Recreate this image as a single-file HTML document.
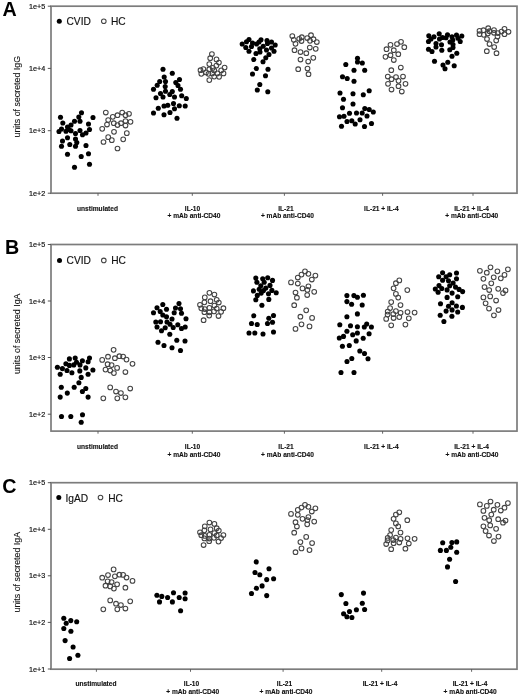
<!DOCTYPE html>
<html><head><meta charset="utf-8"><title>Figure</title>
<style>
html,body{margin:0;padding:0;background:#fff;}
body{width:520px;height:698px;overflow:hidden;}
svg{display:block;}
#w{width:520px;height:698px;will-change:transform;}
text{font-family:"Liberation Sans",sans-serif;fill:#111;}
.tk{font-size:7.2px;stroke:#111;stroke-width:0.18px;}
.xl{font-size:6.6px;font-weight:bold;stroke:#111;stroke-width:0.12px;}
.yl{font-size:8.85px;stroke:#111;stroke-width:0.1px;}
.let{font-size:19.7px;font-weight:bold;fill:#000;}
.lg{font-size:10.2px;stroke:#111;stroke-width:0.15px;}
circle{fill:#000;}
circle.o{fill:none;stroke:#444;stroke-width:1.05;}
</style></head>
<body>
<div id="w"><svg width="520" height="698" viewBox="0 0 520 698">
<rect x="51.0" y="6.2" width="466.0" height="187.0" fill="none" stroke="#7c7c7c" stroke-width="1.7"/>
<line x1="47.8" y1="6.2" x2="51.0" y2="6.2" stroke="#555" stroke-width="1"/>
<text x="45.2" y="8.80" text-anchor="end" class="tk">1e+5</text>
<line x1="47.8" y1="68.4" x2="51.0" y2="68.4" stroke="#555" stroke-width="1"/>
<text x="45.2" y="71.00" text-anchor="end" class="tk">1e+4</text>
<line x1="47.8" y1="130.7" x2="51.0" y2="130.7" stroke="#555" stroke-width="1"/>
<text x="45.2" y="133.30" text-anchor="end" class="tk">1e+3</text>
<line x1="47.8" y1="193.2" x2="51.0" y2="193.2" stroke="#555" stroke-width="1"/>
<text x="45.2" y="195.80" text-anchor="end" class="tk">1e+2</text>
<line x1="98" y1="193.2" x2="98" y2="195.79999999999998" stroke="#555" stroke-width="0.9"/>
<text x="97.5" y="210.5" text-anchor="middle" class="xl">unstimulated</text>
<line x1="192.3" y1="193.2" x2="192.3" y2="195.79999999999998" stroke="#555" stroke-width="0.9"/>
<text x="192.5" y="210.5" text-anchor="middle" class="xl">IL-10</text>
<text x="194.0" y="217.6" text-anchor="middle" class="xl">+ mAb anti-CD40</text>
<line x1="284.4" y1="193.2" x2="284.4" y2="195.79999999999998" stroke="#555" stroke-width="0.9"/>
<text x="285.9" y="210.5" text-anchor="middle" class="xl">IL-21</text>
<text x="287.4" y="217.6" text-anchor="middle" class="xl">+ mAb anti-CD40</text>
<line x1="382.6" y1="193.2" x2="382.6" y2="195.79999999999998" stroke="#555" stroke-width="0.9"/>
<text x="381.4" y="210.5" text-anchor="middle" class="xl">IL-21 + IL-4</text>
<line x1="473" y1="193.2" x2="473" y2="195.79999999999998" stroke="#555" stroke-width="0.9"/>
<text x="471.5" y="210.5" text-anchor="middle" class="xl">IL-21 + IL-4</text>
<text x="471.8" y="217.6" text-anchor="middle" class="xl">+ mAb anti-CD40</text>
<text transform="translate(20.1,96.7) rotate(-90)" text-anchor="middle" class="yl">units of secreted IgG</text>
<text x="2.5" y="15.7" class="let">A</text>
<circle cx="59.3" cy="21.2" r="2.5" fill="#000"/>
<text x="66.5" y="25.20" class="lg">CVID</text>
<circle cx="103.8" cy="21.2" r="2.3" class="o"/>
<text x="110.9" y="25.20" class="lg">HC</text>
<circle cx="81.5" cy="112.8" r="2.55"/>
<circle cx="60.5" cy="117.2" r="2.55"/>
<circle cx="93" cy="117.5" r="2.55"/>
<circle cx="78.8" cy="117.0" r="2.55"/>
<circle cx="80" cy="121.2" r="2.55"/>
<circle cx="74.5" cy="121.2" r="2.55"/>
<circle cx="62.8" cy="123.0" r="2.55"/>
<circle cx="88.5" cy="124.0" r="2.55"/>
<circle cx="71" cy="125.0" r="2.55"/>
<circle cx="67.5" cy="127.0" r="2.55"/>
<circle cx="61.5" cy="129.0" r="2.55"/>
<circle cx="59" cy="131.5" r="2.55"/>
<circle cx="66" cy="131.2" r="2.55"/>
<circle cx="69" cy="129.5" r="2.55"/>
<circle cx="71" cy="130.8" r="2.55"/>
<circle cx="80" cy="130.5" r="2.55"/>
<circle cx="89.5" cy="129.5" r="2.55"/>
<circle cx="75.5" cy="133.5" r="2.55"/>
<circle cx="82.5" cy="134.8" r="2.55"/>
<circle cx="86" cy="133.0" r="2.55"/>
<circle cx="67.5" cy="137.8" r="2.55"/>
<circle cx="75.5" cy="139.0" r="2.55"/>
<circle cx="62.5" cy="141.0" r="2.55"/>
<circle cx="76.8" cy="142.5" r="2.55"/>
<circle cx="69.8" cy="144.5" r="2.55"/>
<circle cx="61.5" cy="146.3" r="2.55"/>
<circle cx="75.5" cy="146.3" r="2.55"/>
<circle cx="86" cy="145.5" r="2.55"/>
<circle cx="67.5" cy="154.3" r="2.55"/>
<circle cx="88.5" cy="153.7" r="2.55"/>
<circle cx="81.2" cy="156.5" r="2.55"/>
<circle cx="89.5" cy="164.2" r="2.55"/>
<circle cx="74.5" cy="167.2" r="2.55"/>
<circle cx="163" cy="69.2" r="2.55"/>
<circle cx="172.3" cy="73.3" r="2.55"/>
<circle cx="164.2" cy="77.0" r="2.55"/>
<circle cx="179.5" cy="79.5" r="2.55"/>
<circle cx="159.7" cy="81.5" r="2.55"/>
<circle cx="165.5" cy="81.5" r="2.55"/>
<circle cx="175.8" cy="82.5" r="2.55"/>
<circle cx="157.2" cy="85.2" r="2.55"/>
<circle cx="178" cy="85.5" r="2.55"/>
<circle cx="165.2" cy="86.5" r="2.55"/>
<circle cx="153.5" cy="89.2" r="2.55"/>
<circle cx="180.5" cy="89.2" r="2.55"/>
<circle cx="165.5" cy="91.2" r="2.55"/>
<circle cx="172.3" cy="91.5" r="2.55"/>
<circle cx="160.5" cy="93.5" r="2.55"/>
<circle cx="169.8" cy="94.5" r="2.55"/>
<circle cx="163" cy="97.0" r="2.55"/>
<circle cx="174.5" cy="97.0" r="2.55"/>
<circle cx="156" cy="97.8" r="2.55"/>
<circle cx="181.7" cy="95.8" r="2.55"/>
<circle cx="186.3" cy="98.5" r="2.55"/>
<circle cx="173.5" cy="103.5" r="2.55"/>
<circle cx="164" cy="106.0" r="2.55"/>
<circle cx="167.8" cy="105.2" r="2.55"/>
<circle cx="179.3" cy="105.8" r="2.55"/>
<circle cx="185.2" cy="106.0" r="2.55"/>
<circle cx="158.3" cy="108.2" r="2.55"/>
<circle cx="174.5" cy="108.8" r="2.55"/>
<circle cx="153.5" cy="113.0" r="2.55"/>
<circle cx="170" cy="112.5" r="2.55"/>
<circle cx="164" cy="114.8" r="2.55"/>
<circle cx="177" cy="118.2" r="2.55"/>
<circle cx="249" cy="39.5" r="2.55"/>
<circle cx="246.5" cy="41.8" r="2.55"/>
<circle cx="242.2" cy="44.0" r="2.55"/>
<circle cx="252.5" cy="43.0" r="2.55"/>
<circle cx="261" cy="39.8" r="2.55"/>
<circle cx="259" cy="42.0" r="2.55"/>
<circle cx="256.5" cy="44.0" r="2.55"/>
<circle cx="267" cy="40.5" r="2.55"/>
<circle cx="271.5" cy="42.0" r="2.55"/>
<circle cx="267.5" cy="43.5" r="2.55"/>
<circle cx="275.2" cy="45.0" r="2.55"/>
<circle cx="251.5" cy="46.5" r="2.55"/>
<circle cx="245.8" cy="47.5" r="2.55"/>
<circle cx="263.2" cy="46.3" r="2.55"/>
<circle cx="271.5" cy="48.0" r="2.55"/>
<circle cx="259.8" cy="48.8" r="2.55"/>
<circle cx="266.5" cy="50.0" r="2.55"/>
<circle cx="274" cy="51.2" r="2.55"/>
<circle cx="249" cy="51.3" r="2.55"/>
<circle cx="260" cy="52.0" r="2.55"/>
<circle cx="256" cy="53.5" r="2.55"/>
<circle cx="269" cy="54.5" r="2.55"/>
<circle cx="265.8" cy="57.8" r="2.55"/>
<circle cx="253.8" cy="59.5" r="2.55"/>
<circle cx="263" cy="61.8" r="2.55"/>
<circle cx="256.3" cy="68.5" r="2.55"/>
<circle cx="268" cy="69.2" r="2.55"/>
<circle cx="252.5" cy="74.0" r="2.55"/>
<circle cx="265.5" cy="75.8" r="2.55"/>
<circle cx="259.8" cy="84.5" r="2.55"/>
<circle cx="257.3" cy="90.0" r="2.55"/>
<circle cx="267.8" cy="91.8" r="2.55"/>
<circle cx="357.5" cy="58.2" r="2.55"/>
<circle cx="357.5" cy="62.0" r="2.55"/>
<circle cx="362.3" cy="63.0" r="2.55"/>
<circle cx="345.8" cy="64.5" r="2.55"/>
<circle cx="354" cy="70.2" r="2.55"/>
<circle cx="364.7" cy="70.2" r="2.55"/>
<circle cx="342.5" cy="76.8" r="2.55"/>
<circle cx="347.2" cy="78.5" r="2.55"/>
<circle cx="354" cy="81.2" r="2.55"/>
<circle cx="369.2" cy="90.8" r="2.55"/>
<circle cx="340" cy="93.0" r="2.55"/>
<circle cx="353" cy="93.8" r="2.55"/>
<circle cx="363.3" cy="94.8" r="2.55"/>
<circle cx="343.5" cy="99.2" r="2.55"/>
<circle cx="353" cy="104.0" r="2.55"/>
<circle cx="342.5" cy="107.8" r="2.55"/>
<circle cx="364.8" cy="108.5" r="2.55"/>
<circle cx="369.2" cy="109.5" r="2.55"/>
<circle cx="373.3" cy="112.0" r="2.55"/>
<circle cx="349.5" cy="113.2" r="2.55"/>
<circle cx="356.5" cy="113.0" r="2.55"/>
<circle cx="362.2" cy="113.0" r="2.55"/>
<circle cx="339.5" cy="116.8" r="2.55"/>
<circle cx="344" cy="116.2" r="2.55"/>
<circle cx="367" cy="116.0" r="2.55"/>
<circle cx="347" cy="121.5" r="2.55"/>
<circle cx="351.8" cy="120.8" r="2.55"/>
<circle cx="355.2" cy="124.0" r="2.55"/>
<circle cx="360" cy="119.7" r="2.55"/>
<circle cx="371.5" cy="123.5" r="2.55"/>
<circle cx="341.5" cy="126.2" r="2.55"/>
<circle cx="364.5" cy="126.5" r="2.55"/>
<circle cx="428.8" cy="35.8" r="2.55"/>
<circle cx="434" cy="36.8" r="2.55"/>
<circle cx="439.2" cy="33.8" r="2.55"/>
<circle cx="442.5" cy="37.5" r="2.55"/>
<circle cx="447.5" cy="34.8" r="2.55"/>
<circle cx="446" cy="37.8" r="2.55"/>
<circle cx="452" cy="36.8" r="2.55"/>
<circle cx="456.5" cy="35.0" r="2.55"/>
<circle cx="461.8" cy="36.0" r="2.55"/>
<circle cx="458" cy="38.2" r="2.55"/>
<circle cx="431" cy="39.0" r="2.55"/>
<circle cx="439.5" cy="39.0" r="2.55"/>
<circle cx="428.5" cy="41.5" r="2.55"/>
<circle cx="436" cy="43.5" r="2.55"/>
<circle cx="450" cy="42.0" r="2.55"/>
<circle cx="452.8" cy="40.0" r="2.55"/>
<circle cx="460.2" cy="41.5" r="2.55"/>
<circle cx="441.5" cy="44.8" r="2.55"/>
<circle cx="436" cy="47.0" r="2.55"/>
<circle cx="453" cy="44.5" r="2.55"/>
<circle cx="453" cy="47.5" r="2.55"/>
<circle cx="428.5" cy="49.2" r="2.55"/>
<circle cx="432" cy="51.5" r="2.55"/>
<circle cx="441.8" cy="50.3" r="2.55"/>
<circle cx="449.8" cy="49.8" r="2.55"/>
<circle cx="456.8" cy="53.2" r="2.55"/>
<circle cx="452" cy="56.2" r="2.55"/>
<circle cx="434.5" cy="61.2" r="2.55"/>
<circle cx="447.8" cy="62.2" r="2.55"/>
<circle cx="443" cy="65.0" r="2.55"/>
<circle cx="454.2" cy="65.8" r="2.55"/>
<circle cx="445" cy="68.8" r="2.55"/>
<circle cx="105.8" cy="112.5" r="2.35" class="o"/>
<circle cx="122.2" cy="112.5" r="2.35" class="o"/>
<circle cx="129" cy="113.8" r="2.35" class="o"/>
<circle cx="117.5" cy="115.2" r="2.35" class="o"/>
<circle cx="125.5" cy="115.2" r="2.35" class="o"/>
<circle cx="112.8" cy="116.8" r="2.35" class="o"/>
<circle cx="108.2" cy="120.0" r="2.35" class="o"/>
<circle cx="125.5" cy="121.0" r="2.35" class="o"/>
<circle cx="130.5" cy="121.8" r="2.35" class="o"/>
<circle cx="113.8" cy="123.2" r="2.35" class="o"/>
<circle cx="121" cy="123.2" r="2.35" class="o"/>
<circle cx="107" cy="124.5" r="2.35" class="o"/>
<circle cx="117.5" cy="125.0" r="2.35" class="o"/>
<circle cx="125.5" cy="125.5" r="2.35" class="o"/>
<circle cx="102.2" cy="128.8" r="2.35" class="o"/>
<circle cx="114" cy="131.8" r="2.35" class="o"/>
<circle cx="126.8" cy="133.2" r="2.35" class="o"/>
<circle cx="108.2" cy="137.2" r="2.35" class="o"/>
<circle cx="111.8" cy="140.2" r="2.35" class="o"/>
<circle cx="123.2" cy="139.3" r="2.35" class="o"/>
<circle cx="103.5" cy="142.0" r="2.35" class="o"/>
<circle cx="117.5" cy="148.5" r="2.35" class="o"/>
<circle cx="211.9" cy="54.1" r="2.35" class="o"/>
<circle cx="210.2" cy="58.2" r="2.35" class="o"/>
<circle cx="216.5" cy="59.4" r="2.35" class="o"/>
<circle cx="218.9" cy="62.6" r="2.35" class="o"/>
<circle cx="209.3" cy="64.1" r="2.35" class="o"/>
<circle cx="216.4" cy="65.6" r="2.35" class="o"/>
<circle cx="224.6" cy="67.5" r="2.35" class="o"/>
<circle cx="200.5" cy="70.2" r="2.35" class="o"/>
<circle cx="203.4" cy="69.0" r="2.35" class="o"/>
<circle cx="209.3" cy="69.2" r="2.35" class="o"/>
<circle cx="214.2" cy="70.4" r="2.35" class="o"/>
<circle cx="221.2" cy="70.4" r="2.35" class="o"/>
<circle cx="206" cy="72.4" r="2.35" class="o"/>
<circle cx="201.3" cy="73.8" r="2.35" class="o"/>
<circle cx="208.5" cy="73.8" r="2.35" class="o"/>
<circle cx="212.3" cy="73.4" r="2.35" class="o"/>
<circle cx="217.4" cy="73.4" r="2.35" class="o"/>
<circle cx="223.5" cy="73.4" r="2.35" class="o"/>
<circle cx="214.2" cy="76.6" r="2.35" class="o"/>
<circle cx="219.1" cy="76.8" r="2.35" class="o"/>
<circle cx="209.3" cy="80.1" r="2.35" class="o"/>
<circle cx="212.7" cy="67.9" r="2.35" class="o"/>
<circle cx="292.3" cy="36.0" r="2.35" class="o"/>
<circle cx="293.8" cy="39.8" r="2.35" class="o"/>
<circle cx="295.5" cy="43.8" r="2.35" class="o"/>
<circle cx="299.2" cy="38.8" r="2.35" class="o"/>
<circle cx="301.8" cy="37.2" r="2.35" class="o"/>
<circle cx="301.5" cy="41.0" r="2.35" class="o"/>
<circle cx="307.2" cy="38.0" r="2.35" class="o"/>
<circle cx="311" cy="35.2" r="2.35" class="o"/>
<circle cx="310" cy="40.8" r="2.35" class="o"/>
<circle cx="313.5" cy="39.2" r="2.35" class="o"/>
<circle cx="316.8" cy="42.0" r="2.35" class="o"/>
<circle cx="309.8" cy="47.5" r="2.35" class="o"/>
<circle cx="315.7" cy="48.8" r="2.35" class="o"/>
<circle cx="294.5" cy="50.2" r="2.35" class="o"/>
<circle cx="300.5" cy="52.0" r="2.35" class="o"/>
<circle cx="306.3" cy="53.2" r="2.35" class="o"/>
<circle cx="313.3" cy="57.8" r="2.35" class="o"/>
<circle cx="300.5" cy="59.5" r="2.35" class="o"/>
<circle cx="308.2" cy="61.5" r="2.35" class="o"/>
<circle cx="298.2" cy="69.2" r="2.35" class="o"/>
<circle cx="307.5" cy="68.5" r="2.35" class="o"/>
<circle cx="308.5" cy="74.2" r="2.35" class="o"/>
<circle cx="390.5" cy="44.8" r="2.35" class="o"/>
<circle cx="397" cy="44.0" r="2.35" class="o"/>
<circle cx="401" cy="41.8" r="2.35" class="o"/>
<circle cx="404.3" cy="47.2" r="2.35" class="o"/>
<circle cx="386.5" cy="49.2" r="2.35" class="o"/>
<circle cx="393.8" cy="50.2" r="2.35" class="o"/>
<circle cx="398.3" cy="54.2" r="2.35" class="o"/>
<circle cx="385.5" cy="56.8" r="2.35" class="o"/>
<circle cx="390.5" cy="55.2" r="2.35" class="o"/>
<circle cx="393.8" cy="60.0" r="2.35" class="o"/>
<circle cx="400.8" cy="67.5" r="2.35" class="o"/>
<circle cx="391.3" cy="70.2" r="2.35" class="o"/>
<circle cx="387.8" cy="76.5" r="2.35" class="o"/>
<circle cx="391.5" cy="79.2" r="2.35" class="o"/>
<circle cx="396" cy="77.0" r="2.35" class="o"/>
<circle cx="403" cy="76.5" r="2.35" class="o"/>
<circle cx="398.5" cy="80.8" r="2.35" class="o"/>
<circle cx="388" cy="83.8" r="2.35" class="o"/>
<circle cx="398.5" cy="86.2" r="2.35" class="o"/>
<circle cx="405.5" cy="83.8" r="2.35" class="o"/>
<circle cx="391.5" cy="89.5" r="2.35" class="o"/>
<circle cx="401.8" cy="91.5" r="2.35" class="o"/>
<circle cx="479.5" cy="30.8" r="2.35" class="o"/>
<circle cx="483.5" cy="30.2" r="2.35" class="o"/>
<circle cx="488.2" cy="28.2" r="2.35" class="o"/>
<circle cx="489.5" cy="31.2" r="2.35" class="o"/>
<circle cx="494" cy="30.0" r="2.35" class="o"/>
<circle cx="479.5" cy="34.2" r="2.35" class="o"/>
<circle cx="483.8" cy="34.8" r="2.35" class="o"/>
<circle cx="487.8" cy="33.5" r="2.35" class="o"/>
<circle cx="494" cy="32.8" r="2.35" class="o"/>
<circle cx="497.8" cy="33.0" r="2.35" class="o"/>
<circle cx="501.5" cy="31.5" r="2.35" class="o"/>
<circle cx="504.5" cy="28.8" r="2.35" class="o"/>
<circle cx="508.5" cy="31.8" r="2.35" class="o"/>
<circle cx="504.5" cy="34.2" r="2.35" class="o"/>
<circle cx="497.5" cy="36.5" r="2.35" class="o"/>
<circle cx="487" cy="39.0" r="2.35" class="o"/>
<circle cx="496.2" cy="40.5" r="2.35" class="o"/>
<circle cx="489.5" cy="44.0" r="2.35" class="o"/>
<circle cx="494.2" cy="47.0" r="2.35" class="o"/>
<circle cx="486.8" cy="51.2" r="2.35" class="o"/>
<circle cx="496.5" cy="53.2" r="2.35" class="o"/>
<rect x="51.0" y="244.5" width="466.0" height="186.60000000000002" fill="none" stroke="#7c7c7c" stroke-width="1.7"/>
<line x1="47.8" y1="244.5" x2="51.0" y2="244.5" stroke="#555" stroke-width="1"/>
<text x="45.2" y="247.10" text-anchor="end" class="tk">1e+5</text>
<line x1="47.8" y1="301.0" x2="51.0" y2="301.0" stroke="#555" stroke-width="1"/>
<text x="45.2" y="303.60" text-anchor="end" class="tk">1e+4</text>
<line x1="47.8" y1="357.5" x2="51.0" y2="357.5" stroke="#555" stroke-width="1"/>
<text x="45.2" y="360.10" text-anchor="end" class="tk">1e+3</text>
<line x1="47.8" y1="414.2" x2="51.0" y2="414.2" stroke="#555" stroke-width="1"/>
<text x="45.2" y="416.80" text-anchor="end" class="tk">1e+2</text>
<line x1="98" y1="431.1" x2="98" y2="433.70000000000005" stroke="#555" stroke-width="0.9"/>
<text x="97.5" y="449.1" text-anchor="middle" class="xl">unstimulated</text>
<line x1="192.3" y1="431.1" x2="192.3" y2="433.70000000000005" stroke="#555" stroke-width="0.9"/>
<text x="192.5" y="449.1" text-anchor="middle" class="xl">IL-10</text>
<text x="194.0" y="456.9" text-anchor="middle" class="xl">+ mAb anti-CD40</text>
<line x1="284.4" y1="431.1" x2="284.4" y2="433.70000000000005" stroke="#555" stroke-width="0.9"/>
<text x="286.0" y="449.1" text-anchor="middle" class="xl">IL-21</text>
<text x="287.5" y="456.9" text-anchor="middle" class="xl">+ mAb anti-CD40</text>
<line x1="382.6" y1="431.1" x2="382.6" y2="433.70000000000005" stroke="#555" stroke-width="0.9"/>
<text x="381.4" y="449.1" text-anchor="middle" class="xl">IL-21 + IL-4</text>
<line x1="473" y1="431.1" x2="473" y2="433.70000000000005" stroke="#555" stroke-width="0.9"/>
<text x="471.6" y="449.1" text-anchor="middle" class="xl">IL-21 + IL-4</text>
<text x="472.0" y="456.9" text-anchor="middle" class="xl">+ mAb anti-CD40</text>
<text transform="translate(19.6,333.8) rotate(-90)" text-anchor="middle" class="yl">units of secreted IgA</text>
<text x="4.9" y="254.0" class="let">B</text>
<circle cx="59.5" cy="260.4" r="2.5" fill="#000"/>
<text x="66.6" y="264.40" class="lg">CVID</text>
<circle cx="103.8" cy="260.4" r="2.3" class="o"/>
<text x="111.2" y="264.40" class="lg">HC</text>
<circle cx="69.4" cy="358.9" r="2.55"/>
<circle cx="75.2" cy="358.0" r="2.55"/>
<circle cx="89.5" cy="358.0" r="2.55"/>
<circle cx="82.4" cy="360.8" r="2.55"/>
<circle cx="88.1" cy="361.7" r="2.55"/>
<circle cx="76.5" cy="362.2" r="2.55"/>
<circle cx="65.9" cy="363.8" r="2.55"/>
<circle cx="69.4" cy="365.4" r="2.55"/>
<circle cx="73.8" cy="364.9" r="2.55"/>
<circle cx="80" cy="364.9" r="2.55"/>
<circle cx="57.4" cy="367.2" r="2.55"/>
<circle cx="62.4" cy="368.6" r="2.55"/>
<circle cx="85.8" cy="367.9" r="2.55"/>
<circle cx="67" cy="370.5" r="2.55"/>
<circle cx="79.8" cy="370.9" r="2.55"/>
<circle cx="92.9" cy="370.0" r="2.55"/>
<circle cx="60.2" cy="374.2" r="2.55"/>
<circle cx="71.9" cy="372.8" r="2.55"/>
<circle cx="88.1" cy="374.2" r="2.55"/>
<circle cx="81.2" cy="377.4" r="2.55"/>
<circle cx="78.9" cy="382.7" r="2.55"/>
<circle cx="61.3" cy="387.3" r="2.55"/>
<circle cx="74.2" cy="387.3" r="2.55"/>
<circle cx="85.8" cy="388.5" r="2.55"/>
<circle cx="82.4" cy="391.5" r="2.55"/>
<circle cx="67.3" cy="393.1" r="2.55"/>
<circle cx="60.2" cy="397.1" r="2.55"/>
<circle cx="88.1" cy="397.1" r="2.55"/>
<circle cx="61.5" cy="416.5" r="2.55"/>
<circle cx="70.8" cy="416.5" r="2.55"/>
<circle cx="82.5" cy="414.8" r="2.55"/>
<circle cx="81.2" cy="422.2" r="2.55"/>
<circle cx="162.8" cy="304.5" r="2.55"/>
<circle cx="179" cy="303.5" r="2.55"/>
<circle cx="157" cy="307.8" r="2.55"/>
<circle cx="166.5" cy="309.2" r="2.55"/>
<circle cx="175.5" cy="308.0" r="2.55"/>
<circle cx="180.5" cy="308.8" r="2.55"/>
<circle cx="153.5" cy="312.8" r="2.55"/>
<circle cx="160.2" cy="311.5" r="2.55"/>
<circle cx="174.2" cy="312.8" r="2.55"/>
<circle cx="181.5" cy="313.2" r="2.55"/>
<circle cx="162.8" cy="315.0" r="2.55"/>
<circle cx="166.5" cy="316.8" r="2.55"/>
<circle cx="172" cy="319.0" r="2.55"/>
<circle cx="186" cy="318.8" r="2.55"/>
<circle cx="155.8" cy="322.0" r="2.55"/>
<circle cx="160.5" cy="321.8" r="2.55"/>
<circle cx="167" cy="322.0" r="2.55"/>
<circle cx="170" cy="324.2" r="2.55"/>
<circle cx="177.8" cy="324.8" r="2.55"/>
<circle cx="157" cy="327.0" r="2.55"/>
<circle cx="165.2" cy="327.8" r="2.55"/>
<circle cx="173.2" cy="327.5" r="2.55"/>
<circle cx="181.5" cy="328.5" r="2.55"/>
<circle cx="185.2" cy="327.0" r="2.55"/>
<circle cx="161.5" cy="330.8" r="2.55"/>
<circle cx="169.8" cy="334.2" r="2.55"/>
<circle cx="176.8" cy="340.2" r="2.55"/>
<circle cx="185" cy="341.0" r="2.55"/>
<circle cx="158" cy="342.2" r="2.55"/>
<circle cx="164" cy="345.5" r="2.55"/>
<circle cx="172" cy="347.8" r="2.55"/>
<circle cx="180.5" cy="350.5" r="2.55"/>
<circle cx="255.8" cy="278.1" r="2.55"/>
<circle cx="262.7" cy="278.8" r="2.55"/>
<circle cx="267.7" cy="277.7" r="2.55"/>
<circle cx="272.5" cy="280.4" r="2.55"/>
<circle cx="256.9" cy="282.3" r="2.55"/>
<circle cx="264.2" cy="282.3" r="2.55"/>
<circle cx="270" cy="285.4" r="2.55"/>
<circle cx="260.8" cy="285.8" r="2.55"/>
<circle cx="265.8" cy="288.1" r="2.55"/>
<circle cx="259.2" cy="289.2" r="2.55"/>
<circle cx="253.5" cy="290.9" r="2.55"/>
<circle cx="263.5" cy="290.6" r="2.55"/>
<circle cx="271.9" cy="290.4" r="2.55"/>
<circle cx="276.2" cy="292.7" r="2.55"/>
<circle cx="261.2" cy="293.1" r="2.55"/>
<circle cx="268.5" cy="293.8" r="2.55"/>
<circle cx="257.3" cy="295.4" r="2.55"/>
<circle cx="255.8" cy="299.8" r="2.55"/>
<circle cx="268.8" cy="299.4" r="2.55"/>
<circle cx="261.9" cy="305.2" r="2.55"/>
<circle cx="253.8" cy="315.8" r="2.55"/>
<circle cx="273.5" cy="315.5" r="2.55"/>
<circle cx="268.8" cy="318.2" r="2.55"/>
<circle cx="251.5" cy="323.5" r="2.55"/>
<circle cx="257.2" cy="324.5" r="2.55"/>
<circle cx="267.5" cy="323.5" r="2.55"/>
<circle cx="272.5" cy="322.2" r="2.55"/>
<circle cx="249" cy="333.0" r="2.55"/>
<circle cx="254.8" cy="333.0" r="2.55"/>
<circle cx="263" cy="334.0" r="2.55"/>
<circle cx="273.5" cy="332.0" r="2.55"/>
<circle cx="346.9" cy="295.6" r="2.55"/>
<circle cx="353.9" cy="295.6" r="2.55"/>
<circle cx="357.4" cy="297.3" r="2.55"/>
<circle cx="363.4" cy="295.3" r="2.55"/>
<circle cx="346.9" cy="301.6" r="2.55"/>
<circle cx="351.6" cy="304.2" r="2.55"/>
<circle cx="362.2" cy="305.0" r="2.55"/>
<circle cx="357.4" cy="313.9" r="2.55"/>
<circle cx="346.9" cy="316.8" r="2.55"/>
<circle cx="339.8" cy="324.8" r="2.55"/>
<circle cx="350.5" cy="325.7" r="2.55"/>
<circle cx="357.4" cy="326.8" r="2.55"/>
<circle cx="366.7" cy="324.0" r="2.55"/>
<circle cx="364.3" cy="327.0" r="2.55"/>
<circle cx="371.4" cy="327.0" r="2.55"/>
<circle cx="346.9" cy="331.3" r="2.55"/>
<circle cx="352.7" cy="334.7" r="2.55"/>
<circle cx="357.4" cy="333.0" r="2.55"/>
<circle cx="369.1" cy="333.7" r="2.55"/>
<circle cx="339.3" cy="338.0" r="2.55"/>
<circle cx="343.5" cy="336.4" r="2.55"/>
<circle cx="363.2" cy="338.3" r="2.55"/>
<circle cx="356.2" cy="340.9" r="2.55"/>
<circle cx="342.4" cy="346.3" r="2.55"/>
<circle cx="349.3" cy="345.5" r="2.55"/>
<circle cx="359.8" cy="351.0" r="2.55"/>
<circle cx="364.5" cy="353.5" r="2.55"/>
<circle cx="351.8" cy="358.5" r="2.55"/>
<circle cx="347" cy="361.5" r="2.55"/>
<circle cx="368" cy="358.8" r="2.55"/>
<circle cx="341" cy="372.5" r="2.55"/>
<circle cx="354" cy="372.5" r="2.55"/>
<circle cx="442.6" cy="272.7" r="2.55"/>
<circle cx="456.5" cy="273.0" r="2.55"/>
<circle cx="438.7" cy="276.7" r="2.55"/>
<circle cx="446.1" cy="276.7" r="2.55"/>
<circle cx="449.7" cy="274.8" r="2.55"/>
<circle cx="456.5" cy="278.7" r="2.55"/>
<circle cx="442.6" cy="280.2" r="2.55"/>
<circle cx="448.5" cy="280.8" r="2.55"/>
<circle cx="453.1" cy="283.0" r="2.55"/>
<circle cx="439" cy="285.6" r="2.55"/>
<circle cx="449.7" cy="285.8" r="2.55"/>
<circle cx="441.8" cy="288.5" r="2.55"/>
<circle cx="435.3" cy="289.0" r="2.55"/>
<circle cx="447.1" cy="289.9" r="2.55"/>
<circle cx="455.5" cy="287.1" r="2.55"/>
<circle cx="459.1" cy="289.4" r="2.55"/>
<circle cx="462.6" cy="291.6" r="2.55"/>
<circle cx="438.1" cy="292.2" r="2.55"/>
<circle cx="452.1" cy="293.1" r="2.55"/>
<circle cx="447.1" cy="297.4" r="2.55"/>
<circle cx="457.7" cy="296.8" r="2.55"/>
<circle cx="440.5" cy="303.8" r="2.55"/>
<circle cx="452.1" cy="302.8" r="2.55"/>
<circle cx="448.5" cy="306.2" r="2.55"/>
<circle cx="456.4" cy="306.0" r="2.55"/>
<circle cx="462.4" cy="307.4" r="2.55"/>
<circle cx="446.1" cy="311.1" r="2.55"/>
<circle cx="452.1" cy="309.9" r="2.55"/>
<circle cx="457.7" cy="312.0" r="2.55"/>
<circle cx="440.2" cy="315.2" r="2.55"/>
<circle cx="451.9" cy="316.3" r="2.55"/>
<circle cx="443.9" cy="321.5" r="2.55"/>
<circle cx="113.6" cy="349.8" r="2.35" class="o"/>
<circle cx="108" cy="356.7" r="2.35" class="o"/>
<circle cx="102.2" cy="359.9" r="2.35" class="o"/>
<circle cx="114.9" cy="358.2" r="2.35" class="o"/>
<circle cx="119.4" cy="356.2" r="2.35" class="o"/>
<circle cx="123.1" cy="356.5" r="2.35" class="o"/>
<circle cx="126.5" cy="359.6" r="2.35" class="o"/>
<circle cx="132.5" cy="363.8" r="2.35" class="o"/>
<circle cx="107.6" cy="364.2" r="2.35" class="o"/>
<circle cx="111.6" cy="365.1" r="2.35" class="o"/>
<circle cx="117.1" cy="367.9" r="2.35" class="o"/>
<circle cx="105.5" cy="369.6" r="2.35" class="o"/>
<circle cx="110.2" cy="370.5" r="2.35" class="o"/>
<circle cx="113.9" cy="373.1" r="2.35" class="o"/>
<circle cx="125.4" cy="372.0" r="2.35" class="o"/>
<circle cx="110.2" cy="387.4" r="2.35" class="o"/>
<circle cx="130.2" cy="388.5" r="2.35" class="o"/>
<circle cx="116" cy="391.5" r="2.35" class="o"/>
<circle cx="120.9" cy="393.0" r="2.35" class="o"/>
<circle cx="103.3" cy="398.3" r="2.35" class="o"/>
<circle cx="117.3" cy="398.3" r="2.35" class="o"/>
<circle cx="125.4" cy="397.3" r="2.35" class="o"/>
<circle cx="209.4" cy="292.8" r="2.35" class="o"/>
<circle cx="214.4" cy="294.5" r="2.35" class="o"/>
<circle cx="204.8" cy="297.4" r="2.35" class="o"/>
<circle cx="216.7" cy="299.8" r="2.35" class="o"/>
<circle cx="210.5" cy="301.2" r="2.35" class="o"/>
<circle cx="218.8" cy="302.5" r="2.35" class="o"/>
<circle cx="204.4" cy="302.3" r="2.35" class="o"/>
<circle cx="200" cy="304.8" r="2.35" class="o"/>
<circle cx="214.4" cy="305.6" r="2.35" class="o"/>
<circle cx="209.4" cy="307.9" r="2.35" class="o"/>
<circle cx="201.3" cy="308.3" r="2.35" class="o"/>
<circle cx="204.8" cy="309.1" r="2.35" class="o"/>
<circle cx="216.7" cy="308.5" r="2.35" class="o"/>
<circle cx="223.4" cy="308.2" r="2.35" class="o"/>
<circle cx="214" cy="311.4" r="2.35" class="o"/>
<circle cx="209.4" cy="312.3" r="2.35" class="o"/>
<circle cx="204.4" cy="312.2" r="2.35" class="o"/>
<circle cx="221.1" cy="311.8" r="2.35" class="o"/>
<circle cx="209.2" cy="315.6" r="2.35" class="o"/>
<circle cx="218.5" cy="316.0" r="2.35" class="o"/>
<circle cx="203.6" cy="320.2" r="2.35" class="o"/>
<circle cx="305" cy="271.4" r="2.35" class="o"/>
<circle cx="301.5" cy="274.6" r="2.35" class="o"/>
<circle cx="308.4" cy="273.8" r="2.35" class="o"/>
<circle cx="315.4" cy="275.6" r="2.35" class="o"/>
<circle cx="297.8" cy="277.5" r="2.35" class="o"/>
<circle cx="311.8" cy="279.5" r="2.35" class="o"/>
<circle cx="291" cy="282.4" r="2.35" class="o"/>
<circle cx="297.8" cy="283.5" r="2.35" class="o"/>
<circle cx="308.4" cy="286.3" r="2.35" class="o"/>
<circle cx="302.5" cy="288.4" r="2.35" class="o"/>
<circle cx="307.4" cy="289.9" r="2.35" class="o"/>
<circle cx="314.2" cy="291.8" r="2.35" class="o"/>
<circle cx="295.5" cy="292.5" r="2.35" class="o"/>
<circle cx="307.2" cy="295.0" r="2.35" class="o"/>
<circle cx="296.9" cy="297.7" r="2.35" class="o"/>
<circle cx="294.2" cy="305.2" r="2.35" class="o"/>
<circle cx="306.2" cy="310.3" r="2.35" class="o"/>
<circle cx="300.4" cy="316.7" r="2.35" class="o"/>
<circle cx="312.1" cy="317.9" r="2.35" class="o"/>
<circle cx="301.5" cy="324.3" r="2.35" class="o"/>
<circle cx="309.5" cy="326.4" r="2.35" class="o"/>
<circle cx="295.5" cy="328.9" r="2.35" class="o"/>
<circle cx="399.3" cy="280.4" r="2.35" class="o"/>
<circle cx="395.9" cy="283.2" r="2.35" class="o"/>
<circle cx="393.6" cy="288.3" r="2.35" class="o"/>
<circle cx="407.3" cy="290.1" r="2.35" class="o"/>
<circle cx="395.9" cy="293.9" r="2.35" class="o"/>
<circle cx="398.2" cy="297.6" r="2.35" class="o"/>
<circle cx="391.2" cy="302.1" r="2.35" class="o"/>
<circle cx="400.5" cy="305.1" r="2.35" class="o"/>
<circle cx="390.1" cy="308.1" r="2.35" class="o"/>
<circle cx="387.7" cy="311.6" r="2.35" class="o"/>
<circle cx="395.9" cy="311.1" r="2.35" class="o"/>
<circle cx="393.3" cy="314.1" r="2.35" class="o"/>
<circle cx="400.6" cy="312.8" r="2.35" class="o"/>
<circle cx="407.5" cy="312.0" r="2.35" class="o"/>
<circle cx="414.6" cy="312.6" r="2.35" class="o"/>
<circle cx="387.6" cy="314.6" r="2.35" class="o"/>
<circle cx="386.2" cy="318.9" r="2.35" class="o"/>
<circle cx="393.6" cy="318.0" r="2.35" class="o"/>
<circle cx="399.3" cy="317.1" r="2.35" class="o"/>
<circle cx="408.8" cy="318.3" r="2.35" class="o"/>
<circle cx="391.2" cy="325.3" r="2.35" class="o"/>
<circle cx="405.4" cy="324.6" r="2.35" class="o"/>
<circle cx="490.5" cy="267.3" r="2.35" class="o"/>
<circle cx="479.9" cy="270.8" r="2.35" class="o"/>
<circle cx="486.8" cy="272.7" r="2.35" class="o"/>
<circle cx="497.4" cy="271.3" r="2.35" class="o"/>
<circle cx="507.9" cy="269.3" r="2.35" class="o"/>
<circle cx="504.5" cy="274.9" r="2.35" class="o"/>
<circle cx="483.4" cy="278.8" r="2.35" class="o"/>
<circle cx="493.7" cy="277.3" r="2.35" class="o"/>
<circle cx="500.8" cy="278.3" r="2.35" class="o"/>
<circle cx="491.3" cy="283.3" r="2.35" class="o"/>
<circle cx="484.5" cy="287.1" r="2.35" class="o"/>
<circle cx="489.2" cy="290.0" r="2.35" class="o"/>
<circle cx="498.2" cy="288.8" r="2.35" class="o"/>
<circle cx="505.5" cy="290.4" r="2.35" class="o"/>
<circle cx="503" cy="293.1" r="2.35" class="o"/>
<circle cx="483.4" cy="297.4" r="2.35" class="o"/>
<circle cx="490.2" cy="296.4" r="2.35" class="o"/>
<circle cx="496.1" cy="300.5" r="2.35" class="o"/>
<circle cx="485.6" cy="303.3" r="2.35" class="o"/>
<circle cx="489" cy="308.6" r="2.35" class="o"/>
<circle cx="498.5" cy="310.0" r="2.35" class="o"/>
<circle cx="493.9" cy="315.3" r="2.35" class="o"/>
<rect x="51.0" y="482.7" width="466.0" height="186.50000000000006" fill="none" stroke="#7c7c7c" stroke-width="1.7"/>
<line x1="47.8" y1="482.7" x2="51.0" y2="482.7" stroke="#555" stroke-width="1"/>
<text x="45.2" y="485.30" text-anchor="end" class="tk">1e+5</text>
<line x1="47.8" y1="529.3" x2="51.0" y2="529.3" stroke="#555" stroke-width="1"/>
<text x="45.2" y="531.90" text-anchor="end" class="tk">1e+4</text>
<line x1="47.8" y1="575.8" x2="51.0" y2="575.8" stroke="#555" stroke-width="1"/>
<text x="45.2" y="578.40" text-anchor="end" class="tk">1e+3</text>
<line x1="47.8" y1="622.4" x2="51.0" y2="622.4" stroke="#555" stroke-width="1"/>
<text x="45.2" y="625.00" text-anchor="end" class="tk">1e+2</text>
<line x1="47.8" y1="669.0" x2="51.0" y2="669.0" stroke="#555" stroke-width="1"/>
<text x="45.2" y="671.60" text-anchor="end" class="tk">1e+1</text>
<line x1="96.4" y1="669.2" x2="96.4" y2="671.8000000000001" stroke="#555" stroke-width="0.9"/>
<text x="96.0" y="686.4" text-anchor="middle" class="xl">unstimulated</text>
<line x1="190.5" y1="669.2" x2="190.5" y2="671.8000000000001" stroke="#555" stroke-width="0.9"/>
<text x="191.5" y="686.4" text-anchor="middle" class="xl">IL-10</text>
<text x="192.7" y="694.0" text-anchor="middle" class="xl">+ mAb anti-CD40</text>
<line x1="283.1" y1="669.2" x2="283.1" y2="671.8000000000001" stroke="#555" stroke-width="0.9"/>
<text x="284.5" y="686.4" text-anchor="middle" class="xl">IL-21</text>
<text x="286.0" y="694.0" text-anchor="middle" class="xl">+ mAb anti-CD40</text>
<line x1="381.7" y1="669.2" x2="381.7" y2="671.8000000000001" stroke="#555" stroke-width="0.9"/>
<text x="380.1" y="686.4" text-anchor="middle" class="xl">IL-21 + IL-4</text>
<line x1="471.6" y1="669.2" x2="471.6" y2="671.8000000000001" stroke="#555" stroke-width="0.9"/>
<text x="470.1" y="686.4" text-anchor="middle" class="xl">IL-21 + IL-4</text>
<text x="470.1" y="694.0" text-anchor="middle" class="xl">+ mAb anti-CD40</text>
<text transform="translate(19.9,572.2) rotate(-90)" text-anchor="middle" class="yl">units of secreted IgA</text>
<text x="2.3" y="492.5" class="let">C</text>
<circle cx="58.8" cy="497.5" r="2.5" fill="#000"/>
<text x="65.4" y="501.50" class="lg">IgAD</text>
<circle cx="100.5" cy="497.5" r="2.3" class="o"/>
<text x="108.2" y="501.50" class="lg">HC</text>
<circle cx="63.8" cy="618.3" r="2.55"/>
<circle cx="70.8" cy="620.6" r="2.55"/>
<circle cx="76.7" cy="621.8" r="2.55"/>
<circle cx="66.2" cy="623.2" r="2.55"/>
<circle cx="63.8" cy="628.5" r="2.55"/>
<circle cx="70.9" cy="631.3" r="2.55"/>
<circle cx="65.1" cy="640.6" r="2.55"/>
<circle cx="73.1" cy="647.0" r="2.55"/>
<circle cx="77.9" cy="655.3" r="2.55"/>
<circle cx="69.6" cy="658.5" r="2.55"/>
<circle cx="156.9" cy="595.3" r="2.55"/>
<circle cx="161.8" cy="596.4" r="2.55"/>
<circle cx="167.6" cy="597.5" r="2.55"/>
<circle cx="173.5" cy="592.8" r="2.55"/>
<circle cx="179.2" cy="597.5" r="2.55"/>
<circle cx="185.1" cy="593.0" r="2.55"/>
<circle cx="185.1" cy="598.7" r="2.55"/>
<circle cx="159.5" cy="601.9" r="2.55"/>
<circle cx="172.4" cy="601.9" r="2.55"/>
<circle cx="180.6" cy="610.8" r="2.55"/>
<circle cx="256.2" cy="561.9" r="2.55"/>
<circle cx="269" cy="568.8" r="2.55"/>
<circle cx="255" cy="572.5" r="2.55"/>
<circle cx="259.8" cy="574.8" r="2.55"/>
<circle cx="266.7" cy="579.6" r="2.55"/>
<circle cx="273.6" cy="578.8" r="2.55"/>
<circle cx="262.1" cy="585.9" r="2.55"/>
<circle cx="256.4" cy="588.2" r="2.55"/>
<circle cx="251.5" cy="593.5" r="2.55"/>
<circle cx="266.7" cy="595.6" r="2.55"/>
<circle cx="341.3" cy="594.6" r="2.55"/>
<circle cx="363.5" cy="593.1" r="2.55"/>
<circle cx="345.9" cy="603.5" r="2.55"/>
<circle cx="362.3" cy="603.3" r="2.55"/>
<circle cx="356.4" cy="609.8" r="2.55"/>
<circle cx="364.6" cy="609.5" r="2.55"/>
<circle cx="349.5" cy="611.5" r="2.55"/>
<circle cx="343.6" cy="613.8" r="2.55"/>
<circle cx="346.9" cy="616.7" r="2.55"/>
<circle cx="351.9" cy="617.5" r="2.55"/>
<circle cx="442.7" cy="542.7" r="2.55"/>
<circle cx="451.9" cy="542.5" r="2.55"/>
<circle cx="456.7" cy="541.9" r="2.55"/>
<circle cx="450.8" cy="547.2" r="2.55"/>
<circle cx="440.4" cy="550.4" r="2.55"/>
<circle cx="446.4" cy="550.4" r="2.55"/>
<circle cx="456.7" cy="552.3" r="2.55"/>
<circle cx="449.6" cy="559.3" r="2.55"/>
<circle cx="447.5" cy="566.9" r="2.55"/>
<circle cx="455.6" cy="581.5" r="2.55"/>
<circle cx="113.6" cy="569.4" r="2.35" class="o"/>
<circle cx="108" cy="575.1" r="2.35" class="o"/>
<circle cx="102.2" cy="577.7" r="2.35" class="o"/>
<circle cx="114.9" cy="576.3" r="2.35" class="o"/>
<circle cx="119.4" cy="574.7" r="2.35" class="o"/>
<circle cx="123.1" cy="574.9" r="2.35" class="o"/>
<circle cx="126.5" cy="577.5" r="2.35" class="o"/>
<circle cx="132.5" cy="580.9" r="2.35" class="o"/>
<circle cx="107.6" cy="581.3" r="2.35" class="o"/>
<circle cx="111.6" cy="582.0" r="2.35" class="o"/>
<circle cx="117.1" cy="584.3" r="2.35" class="o"/>
<circle cx="105.5" cy="585.7" r="2.35" class="o"/>
<circle cx="110.2" cy="586.4" r="2.35" class="o"/>
<circle cx="113.9" cy="588.6" r="2.35" class="o"/>
<circle cx="125.4" cy="587.7" r="2.35" class="o"/>
<circle cx="110.2" cy="600.4" r="2.35" class="o"/>
<circle cx="130.2" cy="601.3" r="2.35" class="o"/>
<circle cx="116" cy="603.7" r="2.35" class="o"/>
<circle cx="120.9" cy="605.0" r="2.35" class="o"/>
<circle cx="103.3" cy="609.3" r="2.35" class="o"/>
<circle cx="117.3" cy="609.3" r="2.35" class="o"/>
<circle cx="125.4" cy="608.5" r="2.35" class="o"/>
<circle cx="209.4" cy="522.5" r="2.35" class="o"/>
<circle cx="214.4" cy="523.9" r="2.35" class="o"/>
<circle cx="204.8" cy="526.3" r="2.35" class="o"/>
<circle cx="216.7" cy="528.2" r="2.35" class="o"/>
<circle cx="210.5" cy="529.4" r="2.35" class="o"/>
<circle cx="218.8" cy="530.5" r="2.35" class="o"/>
<circle cx="204.4" cy="530.3" r="2.35" class="o"/>
<circle cx="200" cy="532.3" r="2.35" class="o"/>
<circle cx="214.4" cy="533.0" r="2.35" class="o"/>
<circle cx="209.4" cy="534.9" r="2.35" class="o"/>
<circle cx="201.3" cy="535.2" r="2.35" class="o"/>
<circle cx="204.8" cy="535.9" r="2.35" class="o"/>
<circle cx="216.7" cy="535.4" r="2.35" class="o"/>
<circle cx="223.4" cy="535.1" r="2.35" class="o"/>
<circle cx="214" cy="537.8" r="2.35" class="o"/>
<circle cx="209.4" cy="538.5" r="2.35" class="o"/>
<circle cx="204.4" cy="538.4" r="2.35" class="o"/>
<circle cx="221.1" cy="538.1" r="2.35" class="o"/>
<circle cx="209.2" cy="541.2" r="2.35" class="o"/>
<circle cx="218.5" cy="541.6" r="2.35" class="o"/>
<circle cx="203.6" cy="545.0" r="2.35" class="o"/>
<circle cx="305" cy="504.8" r="2.35" class="o"/>
<circle cx="301.5" cy="507.5" r="2.35" class="o"/>
<circle cx="308.4" cy="506.8" r="2.35" class="o"/>
<circle cx="315.4" cy="508.3" r="2.35" class="o"/>
<circle cx="297.8" cy="509.9" r="2.35" class="o"/>
<circle cx="311.8" cy="511.5" r="2.35" class="o"/>
<circle cx="291" cy="513.9" r="2.35" class="o"/>
<circle cx="297.8" cy="514.8" r="2.35" class="o"/>
<circle cx="308.4" cy="517.1" r="2.35" class="o"/>
<circle cx="302.5" cy="518.8" r="2.35" class="o"/>
<circle cx="307.4" cy="520.1" r="2.35" class="o"/>
<circle cx="314.2" cy="521.6" r="2.35" class="o"/>
<circle cx="295.5" cy="522.2" r="2.35" class="o"/>
<circle cx="307.2" cy="524.3" r="2.35" class="o"/>
<circle cx="296.9" cy="526.5" r="2.35" class="o"/>
<circle cx="294.2" cy="532.7" r="2.35" class="o"/>
<circle cx="306.2" cy="536.9" r="2.35" class="o"/>
<circle cx="300.4" cy="542.1" r="2.35" class="o"/>
<circle cx="312.1" cy="543.1" r="2.35" class="o"/>
<circle cx="301.5" cy="548.4" r="2.35" class="o"/>
<circle cx="309.5" cy="550.1" r="2.35" class="o"/>
<circle cx="295.5" cy="552.2" r="2.35" class="o"/>
<circle cx="399.3" cy="512.3" r="2.35" class="o"/>
<circle cx="395.9" cy="514.6" r="2.35" class="o"/>
<circle cx="393.6" cy="518.8" r="2.35" class="o"/>
<circle cx="407.3" cy="520.2" r="2.35" class="o"/>
<circle cx="395.9" cy="523.4" r="2.35" class="o"/>
<circle cx="398.2" cy="526.4" r="2.35" class="o"/>
<circle cx="391.2" cy="530.1" r="2.35" class="o"/>
<circle cx="400.5" cy="532.6" r="2.35" class="o"/>
<circle cx="390.1" cy="535.1" r="2.35" class="o"/>
<circle cx="387.7" cy="537.9" r="2.35" class="o"/>
<circle cx="395.9" cy="537.5" r="2.35" class="o"/>
<circle cx="393.3" cy="540.0" r="2.35" class="o"/>
<circle cx="400.6" cy="538.9" r="2.35" class="o"/>
<circle cx="407.5" cy="538.3" r="2.35" class="o"/>
<circle cx="414.6" cy="538.8" r="2.35" class="o"/>
<circle cx="387.6" cy="540.4" r="2.35" class="o"/>
<circle cx="386.2" cy="544.0" r="2.35" class="o"/>
<circle cx="393.6" cy="543.2" r="2.35" class="o"/>
<circle cx="399.3" cy="542.5" r="2.35" class="o"/>
<circle cx="408.8" cy="543.5" r="2.35" class="o"/>
<circle cx="391.2" cy="549.2" r="2.35" class="o"/>
<circle cx="405.4" cy="548.7" r="2.35" class="o"/>
<circle cx="490.5" cy="501.5" r="2.35" class="o"/>
<circle cx="479.9" cy="504.4" r="2.35" class="o"/>
<circle cx="486.8" cy="505.9" r="2.35" class="o"/>
<circle cx="497.4" cy="504.8" r="2.35" class="o"/>
<circle cx="507.9" cy="503.1" r="2.35" class="o"/>
<circle cx="504.5" cy="507.7" r="2.35" class="o"/>
<circle cx="483.4" cy="510.9" r="2.35" class="o"/>
<circle cx="493.7" cy="509.7" r="2.35" class="o"/>
<circle cx="500.8" cy="510.5" r="2.35" class="o"/>
<circle cx="491.3" cy="514.6" r="2.35" class="o"/>
<circle cx="484.5" cy="517.8" r="2.35" class="o"/>
<circle cx="489.2" cy="520.2" r="2.35" class="o"/>
<circle cx="498.2" cy="519.2" r="2.35" class="o"/>
<circle cx="505.5" cy="520.5" r="2.35" class="o"/>
<circle cx="503" cy="522.7" r="2.35" class="o"/>
<circle cx="483.4" cy="526.3" r="2.35" class="o"/>
<circle cx="490.2" cy="525.4" r="2.35" class="o"/>
<circle cx="496.1" cy="528.8" r="2.35" class="o"/>
<circle cx="485.6" cy="531.1" r="2.35" class="o"/>
<circle cx="489" cy="535.5" r="2.35" class="o"/>
<circle cx="498.5" cy="536.6" r="2.35" class="o"/>
<circle cx="493.9" cy="541.0" r="2.35" class="o"/>
</svg></div>
</body></html>
